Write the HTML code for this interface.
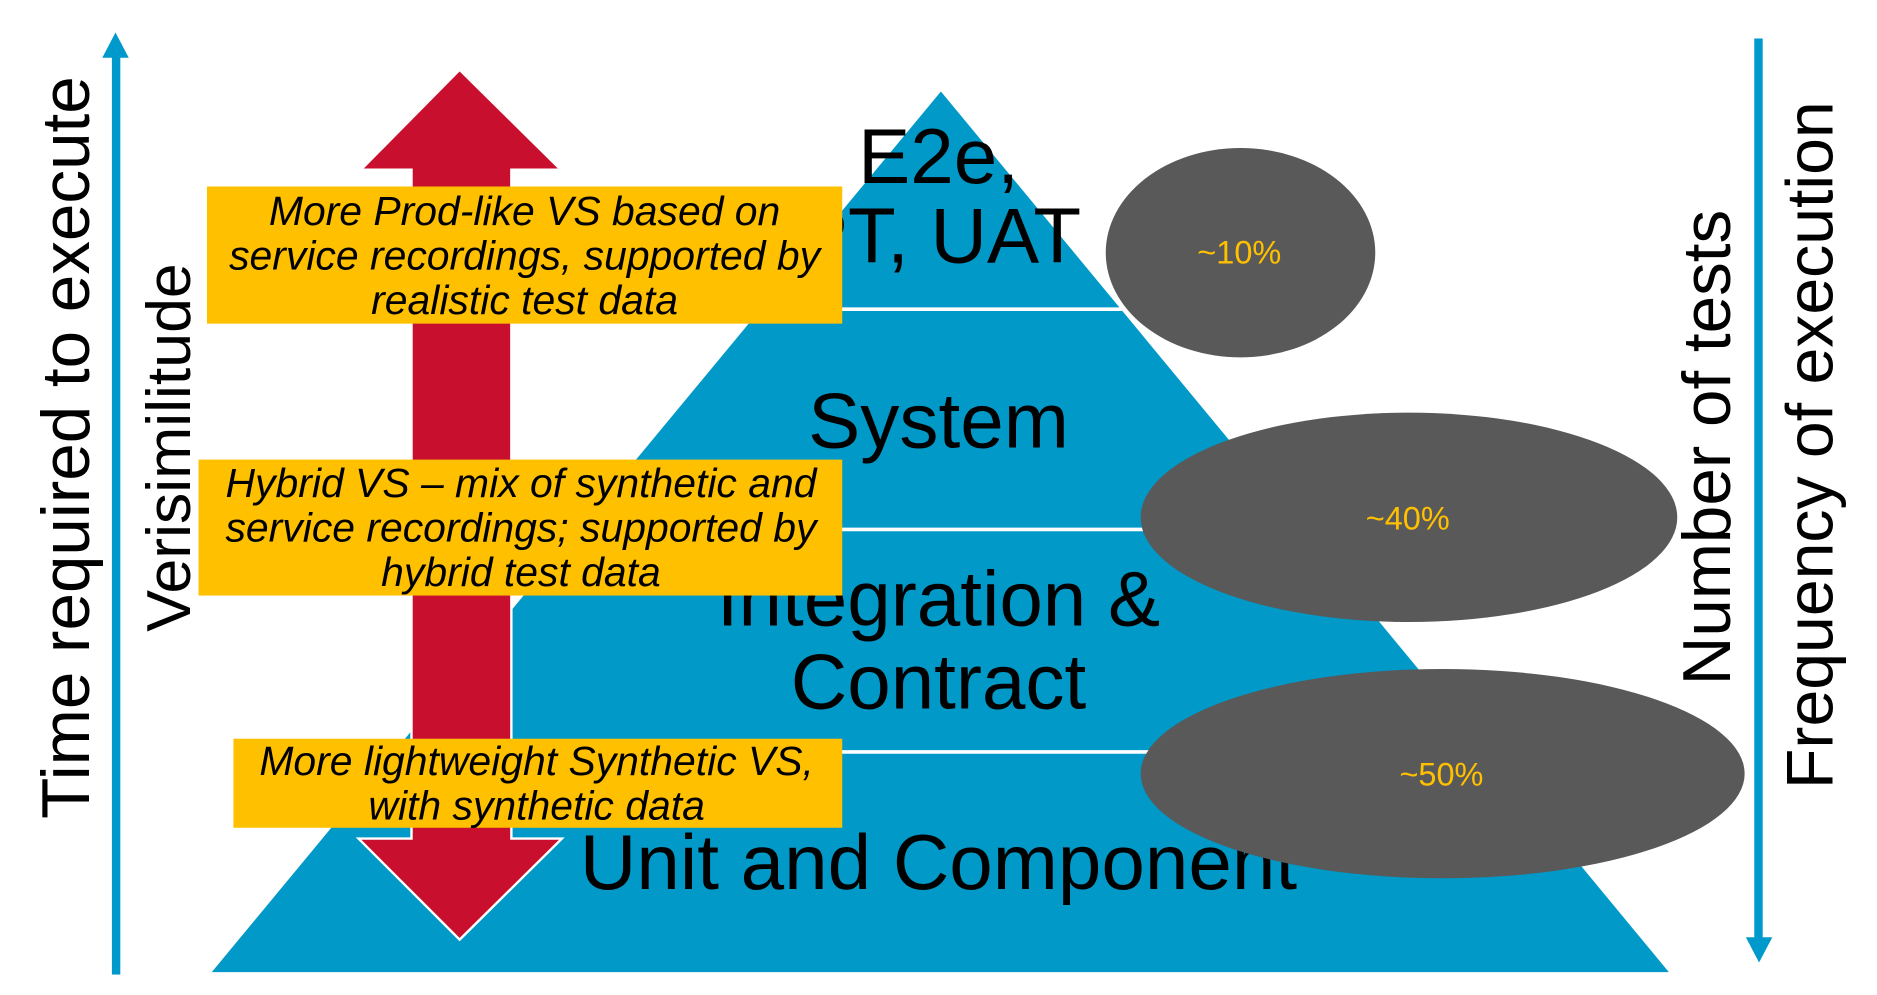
<!DOCTYPE html>
<html><head><meta charset="utf-8"><style>html,body{margin:0;padding:0;background:#fff;overflow:hidden}svg{display:block}</style></head>
<body>
<svg width="1877" height="995" viewBox="0 0 1560 827" preserveAspectRatio="none" xmlns="http://www.w3.org/2000/svg" font-family="Liberation Sans, Arial, sans-serif">
<rect width="1560" height="827" fill="#fff"/>
<rect x="93" y="44" width="7" height="766" fill="#0099CC"/>
<polygon points="96,27 85,48 107,48" fill="#0099CC"/>
<rect x="1458" y="32" width="7" height="752" fill="#0099CC"/>
<polygon points="1462,800 1451,779 1473,779" fill="#0099CC"/>
<polygon points="782,76 1387,808 176,808" fill="#0099C8"/>
<line x1="560" y1="257" x2="935" y2="257" stroke="#fff" stroke-width="3"/>
<line x1="400" y1="440" x2="952" y2="440" stroke="#fff" stroke-width="3"/>
<line x1="300" y1="625" x2="958" y2="625" stroke="#fff" stroke-width="3"/>
<g font-size="65" fill="#000" text-anchor="middle">
<text x="780" y="152">E2e,</text>
<text x="780" y="218">PT, UAT</text>
<text x="780" y="372">System</text>
<text x="780" y="520">Integration &amp;</text>
<text x="780" y="589">Contract</text>
<text x="780" y="739">Unit and Component</text>
</g>
<polygon points="382,58 466,141 425,141 425,697 467,697 382,781 298,697 342,697 342,141 300,141" fill="#C8102E" stroke="#fff" stroke-width="2"/>
<g fill="#FFC000">
<rect x="172" y="155" width="528" height="114"/>
<rect x="165" y="382" width="535" height="113"/>
<rect x="194" y="614" width="506" height="74"/>
</g>
<g font-size="34" font-style="italic" fill="#000" text-anchor="middle">
<text x="436" y="187">More Prod-like VS based on</text>
<text x="436" y="224">service recordings, supported by</text>
<text x="436" y="261">realistic test data</text>
<text x="433" y="413">Hybrid VS – mix of synthetic and</text>
<text x="433" y="450">service recordings; supported by</text>
<text x="433" y="487">hybrid test data</text>
<text x="446" y="644">More lightweight Synthetic VS,</text>
<text x="446" y="681">with synthetic data</text>
</g>
<g fill="#595959">
<ellipse cx="1031" cy="210" rx="112" ry="87"/>
<ellipse cx="1171" cy="430" rx="223" ry="87"/>
<ellipse cx="1199" cy="643" rx="251" ry="87"/>
</g>
<g font-size="27" fill="#FFC000" text-anchor="middle">
<text x="1030" y="219">~10%</text>
<text x="1170" y="440">~40%</text>
<text x="1198" y="653">~50%</text>
</g>
<g fill="#000" text-anchor="middle">
<text font-size="56" transform="translate(74,372) rotate(-90)">Time required to execute</text>
<text font-size="52" transform="translate(158,372) rotate(-90)">Verisimilitude</text>
<text font-size="56" transform="translate(1438,372) rotate(-90)">Number of tests</text>
<text font-size="55" transform="translate(1523,370) rotate(-90)">Frequency of execution</text>
</g>
</svg>
</body></html>
